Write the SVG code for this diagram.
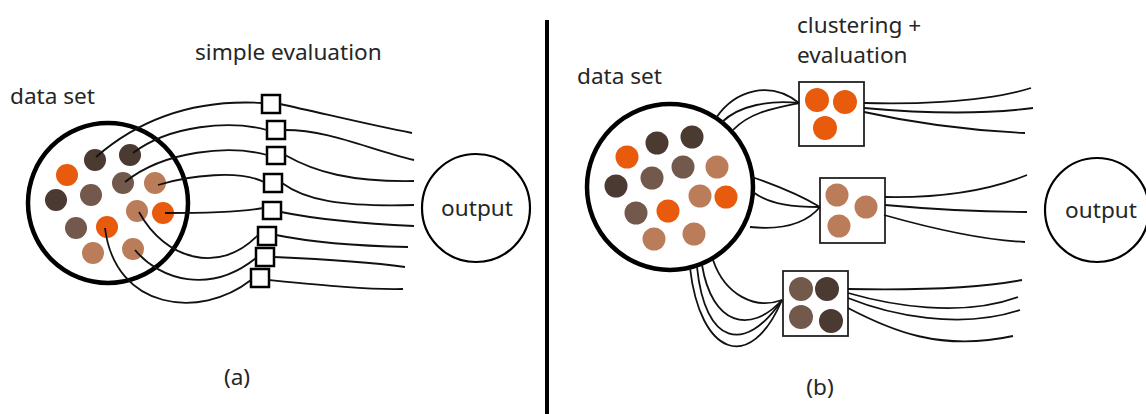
<svg xmlns="http://www.w3.org/2000/svg" width="1146" height="414" viewBox="0 0 1146 414">
  <style>
    .lbl { font-family: "Noto Sans", "Open Sans", sans-serif; font-size: 22.6px; fill: #262626; }
    .set { fill: #ffffff; stroke: #000000; stroke-width: 4.5; }
    .out { fill: #ffffff; stroke: #000000; stroke-width: 2.2; }
    .box { fill: #ffffff; stroke: #000000; stroke-width: 2.5; }
    .cbox { fill: #ffffff; stroke: #222222; stroke-width: 1.8; }
    .or { fill: #e85a0c; }
    .dk { fill: #4b3a31; }
    .md { fill: #73594c; }
    .lt { fill: #bb7d59; }
    .wire { fill: none; stroke: #111111; stroke-width: 1.8; }
    .divider { stroke: #000000; stroke-width: 4; }
  </style>

  <rect width="1146" height="414" fill="#ffffff"/>

  <!-- panel divider -->
  <line class="divider" x1="547" y1="20" x2="547" y2="414"/>

  <!-- ===== panel (a): simple evaluation ===== -->
  <g id="a-dataset">
    <circle class="set" cx="108" cy="203" r="80"/>
    <circle class="dk" cx="95" cy="160" r="11"/>
    <circle class="dk" cx="130" cy="155" r="11"/>
    <circle class="or" cx="67" cy="175" r="11"/>
    <circle class="md" cx="123" cy="183" r="11"/>
    <circle class="lt" cx="155" cy="183" r="11"/>
    <circle class="dk" cx="56" cy="200" r="11"/>
    <circle class="md" cx="91" cy="195" r="11"/>
    <circle class="lt" cx="137" cy="211" r="11"/>
    <circle class="or" cx="163" cy="213" r="11"/>
    <circle class="md" cx="76" cy="228" r="11"/>
    <circle class="or" cx="107" cy="227" r="11"/>
    <circle class="lt" cx="93" cy="253" r="11"/>
    <circle class="lt" cx="133" cy="249" r="11"/>
  </g>

  <g id="a-evaluators">
    <rect class="box" x="262" y="95" width="18" height="18"/>
    <rect class="box" x="267" y="121" width="18" height="18"/>
    <rect class="box" x="267" y="147" width="18" height="17"/>
    <rect class="box" x="264" y="174" width="18" height="18"/>
    <rect class="box" x="263" y="202" width="18" height="17"/>
    <rect class="box" x="258" y="227" width="18" height="18"/>
    <rect class="box" x="256" y="248" width="18" height="18"/>
    <rect class="box" x="251" y="269" width="18" height="18"/>
  </g>

  <g id="a-output">
    <circle class="out" cx="476" cy="208" r="54"/>
    <text class="lbl" x="477" y="216" text-anchor="middle">output</text>
  </g>

  <g id="a-labels">
    <text class="lbl" x="10" y="104">data set</text>
    <text class="lbl" x="195" y="60">simple evaluation</text>
    <text class="lbl" x="237" y="385" text-anchor="middle">(a)</text>
  </g>

  <g id="a-connectors">
    <!-- items to evaluators -->
    <path class="wire" d="M96,157 C150,110 210,100 262,103"/>
    <path class="wire" d="M133,153 C170,125 230,120 267,130"/>
    <path class="wire" d="M125,182 C165,150 230,145 267,155"/>
    <path class="wire" d="M158,185 C190,175 240,170 264,182"/>
    <path class="wire" d="M165,213 C200,213 240,212 263,208"/>
    <path class="wire" d="M139,212 C165,260 220,275 258,235"/>
    <path class="wire" d="M135,250 C160,280 210,295 256,258"/>
    <path class="wire" d="M105,228 C115,310 200,320 251,280"/>
    <!-- evaluators to output -->
    <path class="wire" d="M280,104 C330,115 370,125 412,133"/>
    <path class="wire" d="M285,130 C330,130 370,150 414,160"/>
    <path class="wire" d="M285,155 C315,172 350,182 414,181"/>
    <path class="wire" d="M282,183 C305,200 340,207 414,205"/>
    <path class="wire" d="M281,212 C320,220 370,224 414,226"/>
    <path class="wire" d="M276,235 C310,242 360,246 408,247"/>
    <path class="wire" d="M274,257 C320,259 370,262 405,267"/>
    <path class="wire" d="M269,280 C320,285 370,290 403,289"/>
  </g>

  <!-- ===== panel (b): clustering + evaluation ===== -->
  <g id="b-dataset">
    <circle class="set" cx="670" cy="187" r="83"/>
    <circle class="dk" cx="657" cy="143" r="11.5"/>
    <circle class="dk" cx="692" cy="137" r="11.5"/>
    <circle class="or" cx="627" cy="157" r="11.5"/>
    <circle class="md" cx="683" cy="167" r="11.5"/>
    <circle class="lt" cx="717" cy="167" r="11.5"/>
    <circle class="dk" cx="616" cy="186" r="11.5"/>
    <circle class="md" cx="652" cy="178" r="11.5"/>
    <circle class="lt" cx="700" cy="196" r="11.5"/>
    <circle class="or" cx="726" cy="197" r="11.5"/>
    <circle class="md" cx="636" cy="213" r="11.5"/>
    <circle class="or" cx="668" cy="211" r="11.5"/>
    <circle class="lt" cx="654" cy="239" r="11.5"/>
    <circle class="lt" cx="694" cy="234" r="11.5"/>
  </g>

  <g id="b-cluster-orange">
    <rect class="cbox" x="799" y="82" width="65" height="64"/>
    <circle class="or" cx="817" cy="100" r="12"/>
    <circle class="or" cx="845" cy="102" r="12"/>
    <circle class="or" cx="825" cy="128" r="12"/>
  </g>

  <g id="b-cluster-light">
    <rect class="cbox" x="820" y="178" width="65" height="65"/>
    <circle class="lt" cx="837" cy="195" r="11.5"/>
    <circle class="lt" cx="866" cy="207" r="11.5"/>
    <circle class="lt" cx="839" cy="226" r="11.5"/>
  </g>

  <g id="b-cluster-dark">
    <rect class="cbox" x="783" y="271" width="65" height="65"/>
    <circle class="md" cx="801" cy="289" r="12"/>
    <circle class="dk" cx="827" cy="289" r="12"/>
    <circle class="md" cx="801" cy="317" r="12"/>
    <circle class="dk" cx="831" cy="321" r="12"/>
  </g>

  <g id="b-output">
    <circle class="out" cx="1097" cy="210" r="52"/>
    <text class="lbl" x="1101" y="218" text-anchor="middle">output</text>
  </g>

  <g id="b-labels">
    <text class="lbl" x="577" y="84">data set</text>
    <text class="lbl" x="797" y="33">clustering +</text>
    <text class="lbl" x="797" y="63">evaluation</text>
    <text class="lbl" x="820" y="395" text-anchor="middle">(b)</text>
  </g>

  <g id="b-connectors">
    <!-- data set to orange cluster -->
    <path class="wire" d="M716,118 C735,90 770,80 799,103"/>
    <path class="wire" d="M722,122 C740,105 770,100 799,103"/>
    <path class="wire" d="M733,130 C750,112 775,108 799,103"/>
    <!-- data set to light cluster -->
    <path class="wire" d="M752,177 C775,185 800,195 820,207"/>
    <path class="wire" d="M753,192 C770,205 795,207 820,207"/>
    <path class="wire" d="M750,227 C780,230 805,225 820,207"/>
    <!-- data set to dark cluster -->
    <path class="wire" d="M690,268 C700,355 750,375 782,300"/>
    <path class="wire" d="M697,267 C705,345 745,355 782,300"/>
    <path class="wire" d="M702,265 C712,325 750,335 782,300"/>
    <path class="wire" d="M713,260 C725,295 755,310 782,300"/>
    <!-- clusters to output -->
    <path class="wire" d="M864,103 C900,104 980,104 1031,88"/>
    <path class="wire" d="M864,108 C920,113 980,115 1033,108"/>
    <path class="wire" d="M864,112 C900,120 960,130 1025,133"/>
    <path class="wire" d="M885,197 C940,198 990,190 1027,175"/>
    <path class="wire" d="M885,205 C940,210 990,212 1027,212"/>
    <path class="wire" d="M884,215 C930,228 980,240 1025,242"/>
    <path class="wire" d="M848,289 C900,290 970,290 1022,280"/>
    <path class="wire" d="M848,293 C890,305 960,318 1018,297"/>
    <path class="wire" d="M848,298 C890,315 960,330 1020,310"/>
    <path class="wire" d="M848,308 C890,330 940,352 1013,336"/>
  </g>
</svg>
